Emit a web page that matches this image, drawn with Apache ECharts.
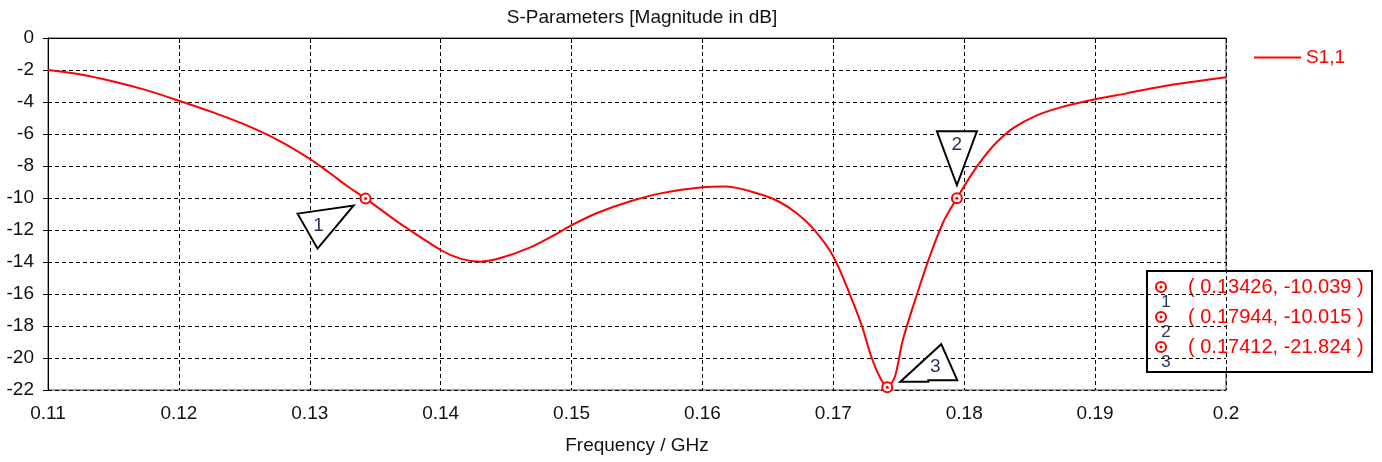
<!DOCTYPE html>
<html>
<head>
<meta charset="utf-8">
<title>S-Parameters</title>
<script src="https://cdn.jsdelivr.net/npm/echarts@6/dist/echarts.min.js"></script>
<style>
  html, body { margin: 0; padding: 0; background: #fff; }
  #chart { width: 1382px; height: 462px; }
</style>
</head>
<body>
<div id="chart"></div>
<script>
'use strict';

// S1,1 magnitude
const freq = [0.11, 0.1125, 0.115, 0.1175, 0.12, 0.1225, 0.125, 0.1275, 0.13, 0.1315,
  0.1328, 0.13426, 0.1354, 0.1369, 0.14, 0.1415, 0.143, 0.1445, 0.1468, 0.1486,
  0.15, 0.1519, 0.1545, 0.157, 0.16, 0.1618, 0.1646, 0.1659, 0.1672, 0.1685,
  0.17, 0.1713, 0.1722, 0.1729, 0.1736, 0.17412, 0.1747, 0.1753, 0.1764, 0.1773,
  0.1784, 0.17944, 0.1805, 0.1815, 0.1825, 0.1838, 0.1855, 0.1873, 0.19,
  0.1924, 0.195, 0.1975, 0.2];
const s11 = [-2.0, -2.28, -2.72, -3.26, -3.92, -4.62, -5.4, -6.35, -7.55, -8.42,
  -9.22, -10.039, -10.71, -11.6, -13.25, -13.79, -13.98, -13.77, -13.1, -12.35,
  -11.7, -10.95, -10.2, -9.68, -9.33, -9.28, -9.81, -10.25, -10.95, -11.95,
  -13.65, -16.1, -18.04, -19.92, -21.27, -21.824, -21.17, -18.9, -16.0, -13.8,
  -11.5, -10.015, -8.6, -7.45, -6.5, -5.6, -4.85, -4.35, -3.83,
  -3.46, -3.04, -2.73, -2.46];

// markers
const markerIds = ['1', '2', '3'];
const markerFreq = [0.13426, 0.17944, 0.17412];
const markerDb = [-10.039, -10.015, -21.824];

// tick labels
const xTicks = [0.11, 0.12, 0.13, 0.14, 0.15, 0.16, 0.17, 0.18, 0.19, 0.2];
const yTicks = [0, -2, -4, -6, -8, -10, -12, -14, -16, -18, -20, -22];

const FONT = '"Liberation Sans", Arial, sans-serif';
const RED = '#ff0000';

// flag triangles, pixel offsets from the marker point
const flagShapes = [
  { pts: [[-68, 15], [-12, 7], [-48, 50]], text: [-47, 27] },
  { pts: [[-20, -67], [20, -67], [0, -13]], text: [0, -53] },
  { pts: [[13, -5.5], [54, -43], [70, -7], [41, -7], [41, -5.5]], text: [48, -20] }
];

function renderFlag(params, api) {
  const i = params.dataIndex;
  const p = api.coord([api.value(0), api.value(1)]);
  const shape = flagShapes[i];
  return {
    type: 'group',
    children: [
      {
        type: 'polygon',
        shape: { points: shape.pts.map(d => [p[0] + d[0], p[1] + d[1]]) },
        style: { fill: '#fff', stroke: '#000', lineWidth: 2 }
      },
      {
        type: 'text',
        x: p[0] + shape.text[0],
        y: p[1] + shape.text[1],
        style: {
          text: markerIds[i], fill: '#1f3358', fontSize: 19, fontFamily: FONT,
          align: 'center', verticalAlign: 'middle'
        }
      },
      {
        type: 'circle',
        shape: { cx: p[0], cy: p[1], r: 5 },
        style: { fill: '#fff', stroke: RED, lineWidth: 2 }
      },
      {
        type: 'circle',
        shape: { cx: p[0], cy: p[1], r: 1.5 },
        style: { fill: RED }
      }
    ]
  };
}

// marker table in the lower right
const table = [{
  type: 'rect',
  shape: { x: 0, y: 0, width: 225, height: 101 },
  style: { fill: '#fff', stroke: '#000', lineWidth: 2 }
}];
markerIds.forEach((id, i) => {
  const cy = 16 + i * 30;
  table.push(
    { type: 'circle', shape: { cx: 14, cy: cy, r: 5 }, style: { fill: '#fff', stroke: RED, lineWidth: 2 } },
    { type: 'circle', shape: { cx: 14, cy: cy, r: 1.5 }, style: { fill: RED } },
    {
      type: 'text', x: 19, y: cy + 15,
      style: { text: id, fill: '#1f3358', fontSize: 17, fontFamily: FONT, align: 'center', verticalAlign: 'middle' }
    },
    {
      type: 'text', x: 41, y: cy,
      style: {
        text: `( ${markerFreq[i].toFixed(5)}, ${markerDb[i].toFixed(3)} )`,
        fill: RED, fontSize: 20, fontFamily: FONT, align: 'left', verticalAlign: 'middle'
      }
    }
  );
});

const chart = echarts.init(document.getElementById('chart'), null, { renderer: 'canvas' });

chart.setOption({
  animation: false,
  backgroundColor: '#fff',
  title: {
    text: 'S-Parameters [Magnitude in dB]',
    left: 637,
    top: 3,
    textAlign: 'center',
    textStyle: { fontFamily: FONT, fontSize: 19, fontWeight: 'normal', color: '#111' }
  },
  legend: {
    data: ['S1,1'],
    left: 1249,
    top: 43,
    itemWidth: 47,
    itemHeight: 14,
    icon: 'path://M0,6 L47,6 L47,8 L0,8 Z',
    itemStyle: { color: RED },
    textStyle: { fontFamily: FONT, fontSize: 19, color: RED }
  },
  grid: {
    left: 48, right: 156, top: 38, bottom: 72,
    show: true, borderColor: '#444', borderWidth: 1
  },
  xAxis: {
    type: 'value',
    min: xTicks[0],
    max: xTicks[xTicks.length - 1],
    interval: 0.01,
    name: 'Frequency / GHz',
    nameLocation: 'middle',
    nameGap: 46,
    nameTextStyle: { fontFamily: FONT, fontSize: 19, color: '#111' },
    axisLine: { lineStyle: { color: '#000', width: 1 } },
    axisTick: { inside: false, length: 5, lineStyle: { color: '#000' } },
    axisLabel: {
      margin: 14, fontFamily: FONT, fontSize: 19, color: '#111',
      showMaxLabel: true, showMinLabel: true,
      formatter: v => String(Math.round(v * 1000) / 1000)
    },
    splitLine: { show: true, lineStyle: { color: '#000', type: [4, 3], width: 1 } }
  },
  yAxis: {
    type: 'value',
    min: yTicks[yTicks.length - 1],
    max: yTicks[0],
    interval: 2,
    axisLine: { show: true, lineStyle: { color: '#000', width: 1 } },
    axisTick: { show: true, inside: false, length: 5, lineStyle: { color: '#000' } },
    axisLabel: { margin: 14, fontFamily: FONT, fontSize: 19, color: '#111' },
    splitLine: { show: true, lineStyle: { color: '#000', type: [4, 3], width: 1 } }
  },
  graphic: [{ type: 'group', x: 1147, y: 271, z: 100, children: table }],
  series: [
    {
      name: 'S1,1',
      type: 'line',
      data: freq.map((f, i) => [f, s11[i]]),
      symbol: 'none',
      smooth: 0.3,
      lineStyle: { color: RED, width: 2 },
      itemStyle: { color: RED },
      z: 3
    },
    {
      name: 'markers',
      type: 'custom',
      data: markerFreq.map((f, i) => [f, markerDb[i]]),
      renderItem: renderFlag,
      z: 5
    }
  ]
});
</script>
</body>
</html>
